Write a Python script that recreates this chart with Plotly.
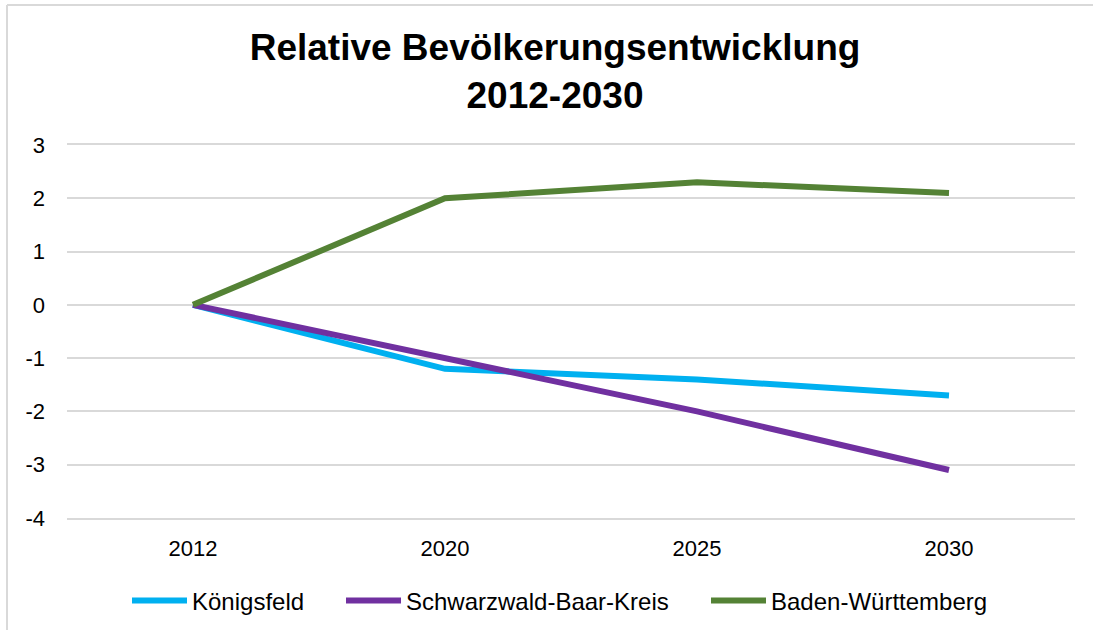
import plotly.graph_objects as go

years = ["2012", "2020", "2025", "2030"]
koenigsfeld = [0, -1.2, -1.4, -1.7]
schwarzwald = [0, -1.0, -2.0, -3.1]
bawue = [0, 2.0, 2.3, 2.1]
ytick_vals = [3, 2, 1, 0, -1, -2, -3, -4]
ytick_text = ["3", "2", "1", "0", "-1", "-2", "-3", "-4"]

series = [
    ("Königsfeld", koenigsfeld, "#00B0F0"),
    ("Schwarzwald-Baar-Kreis", schwarzwald, "#7030A0"),
    ("Baden-Württemberg", bawue, "#548235"),
]

W, H = 1093, 630
L, R, T, B = 67, 1075, 145, 518

def px_x(p):
    return (p - L) / (R - L)

def px_y(p):
    return (B - p) / (B - T)

legend_starts = [133, 347, 712]
legend_ids = ["legend", "legend2", "legend3"]

fig = go.Figure()
for (name, vals, col), lid in zip(series, legend_ids):
    fig.add_trace(go.Scatter(x=years, y=vals, mode="lines", name=name,
                             legend=lid, line=dict(color=col, width=6)))

border = dict(color="#D9D9D9", width=2)
fig.add_shape(type="line", xref="paper", yref="paper",
              x0=px_x(7), x1=px_x(1100), y0=px_y(5), y1=px_y(5), line=border)
fig.add_shape(type="line", xref="paper", yref="paper",
              x0=px_x(7), x1=px_x(7), y0=px_y(5), y1=px_y(640), line=border)

legend_common = dict(orientation="h", xanchor="left", yanchor="middle",
                     y=px_y(601), font=dict(size=24), itemwidth=55,
                     bgcolor="rgba(0,0,0,0)")
legends = {}
for lid, xs in zip(legend_ids, legend_starts):
    legends[lid] = dict(legend_common, x=px_x(xs - 6))

fig.update_layout(
    width=W, height=H,
    margin=dict(l=L, r=W - R, t=T, b=H - B, autoexpand=False),
    paper_bgcolor="white", plot_bgcolor="white",
    font=dict(family="Liberation Sans, Arial, sans-serif", color="#000000"),
    title=dict(text="<b>Relative Bevölkerungsentwicklung<br>2012-2030</b>",
               x=px_x(555), xref="paper", xanchor="center",
               y=1 - 60 / H, yanchor="middle",
               font=dict(size=37, color="#000000")),
    xaxis=dict(type="category", range=[-0.5, 3.5], showgrid=False,
               showline=True, mirror=True, linecolor="#D9D9D9", linewidth=2,
               ticks="", tickfont=dict(size=22), ticklabelstandoff=10),
    yaxis=dict(range=[-4, 3], tickvals=ytick_vals, ticktext=ytick_text,
               showgrid=True, gridcolor="#D9D9D9",
               gridwidth=2, zeroline=False, showline=False, ticks="",
               tickfont=dict(size=22), ticklabelstandoff=21),
    showlegend=True,
    **legends,
)

fig.write_html("out.html", config={"displayModeBar": False},
               post_script="document.body.style.margin='0';")
